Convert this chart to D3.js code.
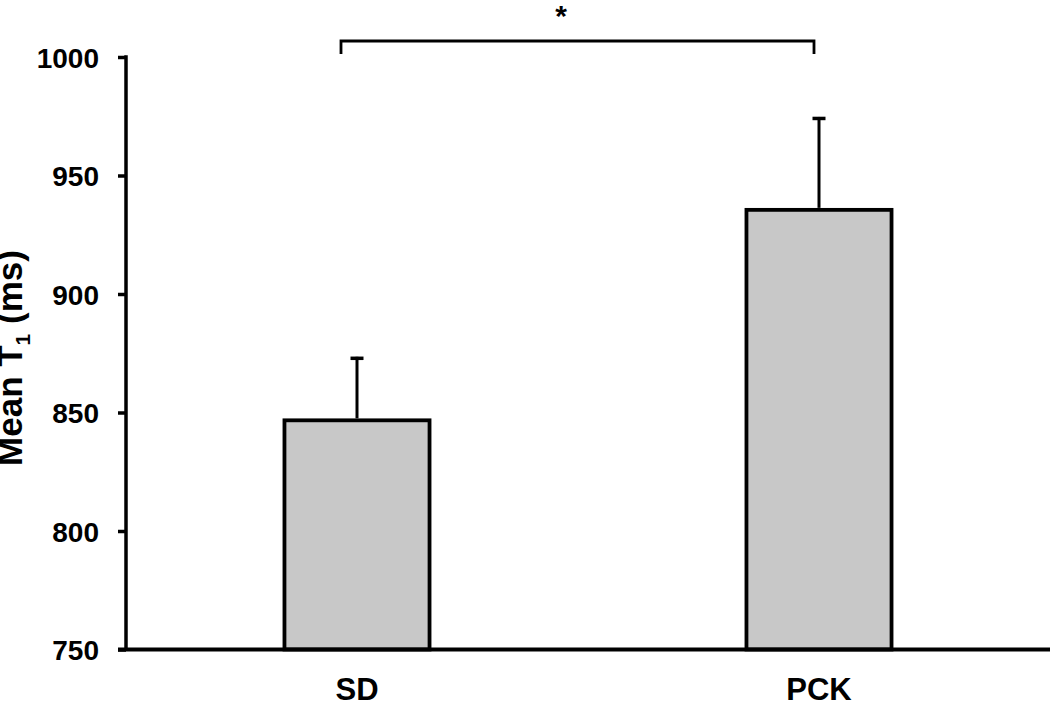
<!DOCTYPE html>
<html>
<head>
<meta charset="UTF-8">
<title>Mean T1</title>
<script src="https://cdn.jsdelivr.net/npm/d3@7"></script>
<style>
  body { margin: 0; background: #fff; }
  text { font-family: "Liberation Sans", Arial, sans-serif; font-weight: bold; fill: #000; }
</style>
</head>
<body>
<svg id="chart" width="1050" height="703"></svg>
<script>
// data
var groups = ["SD", "PCK"];
var means = [846.7, 935.5];
var errors = [26.8, 39.2];
var yTicks = [750, 800, 850, 900, 950, 1000];

var width = 1050, height = 703;
var mLeft = 126, mRight = 1050, mTop = 57, mBottom = 649.5;

var svg = d3.select("#chart");

var y = d3.scaleLinear().domain([750, 1000]).range([mBottom, mTop]);
var x = d3.scaleBand().domain(groups).range([mLeft, mRight])
    .paddingInner(0.686).paddingOuter(0.343);

// bars
svg.selectAll("rect.bar")
    .data(groups)
    .enter()
    .append("rect")
    .attr("class", "bar")
    .attr("x", function(d){ return x(d); })
    .attr("width", x.bandwidth())
    .attr("y", function(d, i){ return y(means[i]); })
    .attr("height", function(d, i){ return y(750) - y(means[i]); })
    .attr("fill", "#c8c8c8")
    .attr("stroke", "#000")
    .attr("stroke-width", 3.8);

// error bars (upper only)
var err = svg.selectAll("g.err")
    .data(groups)
    .enter()
    .append("g")
    .attr("class", "err");
err.append("line")
    .attr("x1", function(d){ return x(d) + x.bandwidth()/2; })
    .attr("x2", function(d){ return x(d) + x.bandwidth()/2; })
    .attr("y1", function(d, i){ return y(means[i]) - 2; })
    .attr("y2", function(d, i){ return y(means[i] + errors[i]); })
    .attr("stroke", "#000").attr("stroke-width", 3);
err.append("line")
    .attr("x1", function(d){ return x(d) + x.bandwidth()/2 - 6.5; })
    .attr("x2", function(d){ return x(d) + x.bandwidth()/2 + 6.5; })
    .attr("y1", function(d, i){ return y(means[i] + errors[i]) + 1.5; })
    .attr("y2", function(d, i){ return y(means[i] + errors[i]) + 1.5; })
    .attr("stroke", "#000").attr("stroke-width", 3.5);

// y axis
var yAxis = svg.append("g")
    .attr("transform", "translate(" + mLeft + ",0)")
    .call(d3.axisLeft(y).tickValues(yTicks).tickSize(8).tickPadding(19).tickFormat(d3.format("d")));
yAxis.select(".domain").remove();
yAxis.selectAll(".tick line").attr("stroke", "#000").attr("stroke-width", 3.5);
yAxis.selectAll(".tick text").style("font-size", "28px").attr("dy", "0.36em");
yAxis.append("line")
    .attr("x1", 0).attr("x2", 0)
    .attr("y1", mTop - 1.75).attr("y2", mBottom)
    .attr("stroke", "#000").attr("stroke-width", 3.5);

// x axis
svg.append("line")
    .attr("x1", mLeft - 8).attr("x2", mRight)
    .attr("y1", mBottom).attr("y2", mBottom)
    .attr("stroke", "#000").attr("stroke-width", 4);

svg.selectAll("text.xlab")
    .data(groups)
    .enter()
    .append("text")
    .attr("class", "xlab")
    .attr("x", function(d){ return x(d) + x.bandwidth()/2; })
    .attr("y", 700)
    .attr("text-anchor", "middle")
    .style("font-size", "31px")
    .text(function(d){ return d; });

// y label
var ylab = svg.append("text")
    .attr("transform", "translate(22,358) rotate(-90)")
    .attr("text-anchor", "middle")
    .style("font-size", "35px");
ylab.append("tspan").text("Mean T");
ylab.append("tspan").attr("dy", 8).style("font-size", "21px").text("1");
ylab.append("tspan").attr("dy", -8).text(" (ms)");

// significance bracket
var bx1 = x("SD") + x.bandwidth()/2 - 16;
var bx2 = x("PCK") + x.bandwidth()/2 - 5;
svg.append("path")
    .attr("d", "M" + bx1 + ",54 V41 H" + bx2 + " V54")
    .attr("fill", "none")
    .attr("stroke", "#000")
    .attr("stroke-width", 2.8);
svg.append("text")
    .attr("x", 561)
    .attr("y", 26)
    .attr("text-anchor", "middle")
    .style("font-size", "30px")
    .text("*");
</script>
</body>
</html>
